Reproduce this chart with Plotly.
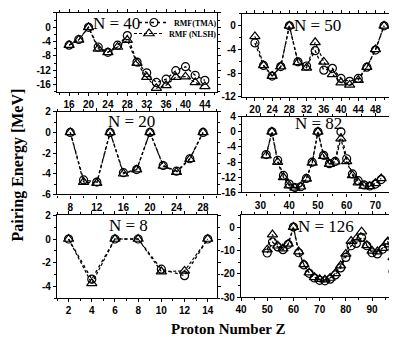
import plotly.graph_objects as go

# ---------------- data ----------------
z40 = [16, 18, 20, 22, 24, 26, 28, 30, 32, 34, 36, 38, 40, 42, 44]
tma40 = [-5.0, -3.4, 0, -5.5, -7.0, -5.0, -2.3, -9.7, -12.7, -15.4, -14.5, -12.1, -11.0, -13.4, -14.8]
nlsh40 = [-5.0, -3.5, 0, -6.0, -7.0, -5.5, -3.6, -10.0, -13.9, -17.0, -16.2, -13.9, -13.8, -15.4, -16.5]

z50 = [20, 22, 24, 26, 28, 30, 32, 34, 36, 38, 40, 42, 44, 46, 48, 50]
tma50 = [-2.9, -6.7, -8.5, -6.9, 0, -6.1, -6.8, -4.2, -7.5, -7.2, -8.9, -9.4, -8.9, -7.0, -4.1, 0]
nlsh50 = [-1.8, -6.7, -8.5, -6.9, 0, -6.2, -7.1, -2.8, -6.1, -8.2, -9.6, -10.0, -9.2, -7.0, -4.0, 0]

z20 = [8, 10, 12, 14, 16, 18, 20, 22, 24, 26, 28]
tma20 = [0, -4.6, -4.8, 0, -3.9, -3.6, 0, -3.2, -3.75, -2.55, 0]
nlsh20 = [0, -4.8, -4.9, 0, -4.0, -3.6, 0, -3.25, -3.85, -2.6, 0]

z82 = [32, 34, 36, 38, 40, 42, 44, 46, 48, 50, 52, 54, 56, 58, 60, 62, 64, 66, 68, 70, 72]
tma82 = [-6.0, 0, -7.5, -11.5, -13.8, -14.7, -14.5, -12.3, -8.0, 0, -6.2, -8.4, -7.8, 0,
         -7.1, -11.1, -12.9, -14.0, -14.3, -13.8, -12.6]
nlsh82 = [-6.3, 0, -8.0, -12.0, -14.2, -14.8, -14.5, -12.4, -8.2, 0, -6.4, -8.5, -7.9, -1.8,
          -7.8, -11.5, -13.4, -14.3, -14.4, -13.6, -12.3]

z8 = [2, 4, 6, 8, 10, 12, 14]
tma8 = [0, -3.4, 0, 0, -2.55, -3.1, 0]
nlsh8 = [0, -3.75, 0, 0, -2.75, -2.7, 0]

z126 = [50, 52, 54, 56, 58, 60, 62, 64, 66, 68, 70, 72, 74, 76, 78, 80, 82, 84, 86,
        88, 90, 92, 94, 96, 98]
tma126 = [-11.1, -6.4, -8.5, -9.7, -7.4, 0, -11.0, -16.2, -19.8, -21.8, -22.8, -23.0, -22.3,
          -20.5, -17.5, -13.0, -8.0, -7.0, -4.5, -8.0, -11.0, -11.5, -9.5, -6.8, -19.0]
nlsh126 = [-9.7, -3.2, -8.0, -9.2, -7.2, 0, -10.5, -16.0, -19.5, -21.5, -22.3, -22.5, -21.8,
           -19.8, -16.5, -11.5, -6.0, -5.0, -2.0, -7.8, -10.2, -10.5, -9.0, -6.2, -13.0]

panel_labels = ["N = 40", "N = 50", "N = 20", "N = 82", "N = 8", "N = 126"]
series_names = ["RMF(TMA)", "RMF (NLSH)"]

# ---------------- layout geometry (page pixels; page has an 8px body margin) ----------------
OFF = 8
W, H = 397 - OFF, 342 - OFF
def fx(p):
    return (p - OFF) / W
def fy(p):
    return 1 - (p - OFF) / H
def px_x(a, b):
    return [max(0.0, fx(a)), min(1.0, fx(b))]
def px_y(top, bottom):
    return [fy(bottom), fy(top)]

panels = [
    dict(z=z40, a=tma40, b=nlsh40, xd=px_x(57, 217), yd=px_y(12, 91), xr=[13.5, 46.5], yr=[-18, 4],
         xt=[16, 20, 24, 28, 32, 36, 40, 44], yt=[4, 0, -4, -8, -12, -16], xm=2, ym=2),
    dict(z=z50, a=tma50, b=nlsh50, xd=px_x(242, 397), yd=px_y(13, 96), xr=[17, 53], yr=[-12, 2],
         xt=[20, 24, 28, 32, 36, 40, 44, 48, 52], yt=[0, -4, -8, -12], xm=2, ym=2),
    dict(z=z20, a=tma20, b=nlsh20, xd=px_x(57, 217), yd=px_y(111, 194), xr=[6, 30.1], yr=[-6, 2],
         xt=[8, 12, 16, 20, 24, 28], yt=[2, 0, -2, -4, -6], xm=2, ym=1),
    dict(z=z82, a=tma82, b=nlsh82, xd=px_x(242, 397), yd=px_y(116, 192), xr=[23.6, 77.5], yr=[-16, 4],
         xt=[30, 40, 50, 60, 70], yt=[4, 0, -4, -8, -12, -16], xm=5, ym=2),
    dict(z=z8, a=tma8, b=nlsh8, xd=px_x(57, 217), yd=px_y(215, 298), xr=[1, 14.8], yr=[-5, 2],
         xt=[2, 4, 6, 8, 10, 12, 14], yt=[2, 0, -2, -4], xm=1, ym=1),
    dict(z=z126, a=tma126, b=nlsh126, xd=px_x(241, 397), yd=px_y(215, 297), xr=[40, 99.5], yr=[-30, 5],
         xt=[40, 50, 60, 70, 80, 90], yt=[0, -10, -20, -30], xm=5, ym=5),
]

fig = go.Figure()
tickfont = dict(family="Liberation Sans, Arial", size=10, color="black", weight="bold")
layout_axes = {}
annotations = []

for i, p in enumerate(panels):
    k = "" if i == 0 else str(i + 1)
    xa, ya = "x" + k, "y" + k
    fig.add_trace(go.Scatter(
        x=p["z"], y=p["a"], xaxis=xa, yaxis=ya, mode="lines+markers",
        name=series_names[0], showlegend=(i == 0), legend="legend",
        line=dict(color="black", width=1.3, dash="dot"),
        marker=dict(symbol="circle-open", size=8, color="black", line=dict(width=1.2, color="black")),
    ))
    fig.add_trace(go.Scatter(
        x=p["z"], y=p["b"], xaxis=xa, yaxis=ya, mode="lines+markers",
        name=series_names[1], showlegend=(i == 0), legend="legend2",
        line=dict(color="black", width=1.2, dash="3px,2px"),
        marker=dict(symbol="triangle-up-open", size=9, color="black", line=dict(width=1.2, color="black")),
    ))
    common = dict(showgrid=False, zeroline=False, showline=True, linecolor="black", linewidth=1.2,
                  mirror="ticks", ticks="outside", ticklen=3, tickwidth=1, tickcolor="black",
                  tickfont=tickfont, automargin=False)
    layout_axes["xaxis" + k] = dict(common, domain=p["xd"], range=p["xr"], anchor=ya,
                                    tickvals=p["xt"], ticktext=[str(v) for v in p["xt"]],
                                    minor=dict(dtick=p["xm"], ticks="outside", ticklen=2, tickcolor="black"))
    layout_axes["yaxis" + k] = dict(common, domain=p["yd"], range=p["yr"], anchor=xa,
                                    tickvals=p["yt"], ticktext=[str(v) for v in p["yt"]],
                                    minor=dict(dtick=p["ym"], ticks="outside", ticklen=2, tickcolor="black"))

label_pos = [(116, 23), (317, 25), (131, 121), (318, 123), (128, 225), (326, 226)]
for (cx, cy), txt in zip(label_pos, panel_labels):
    annotations.append(dict(text=txt, x=fx(cx), y=fy(cy), xref="paper", yref="paper",
                            xanchor="center", yanchor="middle", showarrow=False,
                            font=dict(family="Liberation Serif", size=17, color="black")))

annotations.append(dict(text="Pairing Energy [MeV]", x=fx(18), y=fy(165), xref="paper", yref="paper",
                        xanchor="center", yanchor="middle", textangle=-90, showarrow=False,
                        font=dict(family="Liberation Serif", size=16, color="black", weight="bold")))
annotations.append(dict(text="Proton Number Z", x=fx(228), y=fy(329), xref="paper", yref="paper",
                        xanchor="center", yanchor="middle", showarrow=False,
                        font=dict(family="Liberation Serif", size=15, color="black", weight="bold")))

legend_font = dict(family="Liberation Serif", size=8, color="black", weight="bold")
fig.update_layout(
    width=W, height=H, margin=dict(l=0, r=0, t=0, b=0),
    paper_bgcolor="white", plot_bgcolor="white",
    annotations=annotations,
    legend=dict(x=fx(222), y=fy(7), xanchor="right", yanchor="top",
                bgcolor="rgba(0,0,0,0)", font=legend_font, itemwidth=30),
    legend2=dict(x=fx(222), y=fy(19), xanchor="right", yanchor="top",
                 bgcolor="rgba(0,0,0,0)", font=legend_font, itemwidth=30),
    **layout_axes,
)

fig.write_html("out.html")
